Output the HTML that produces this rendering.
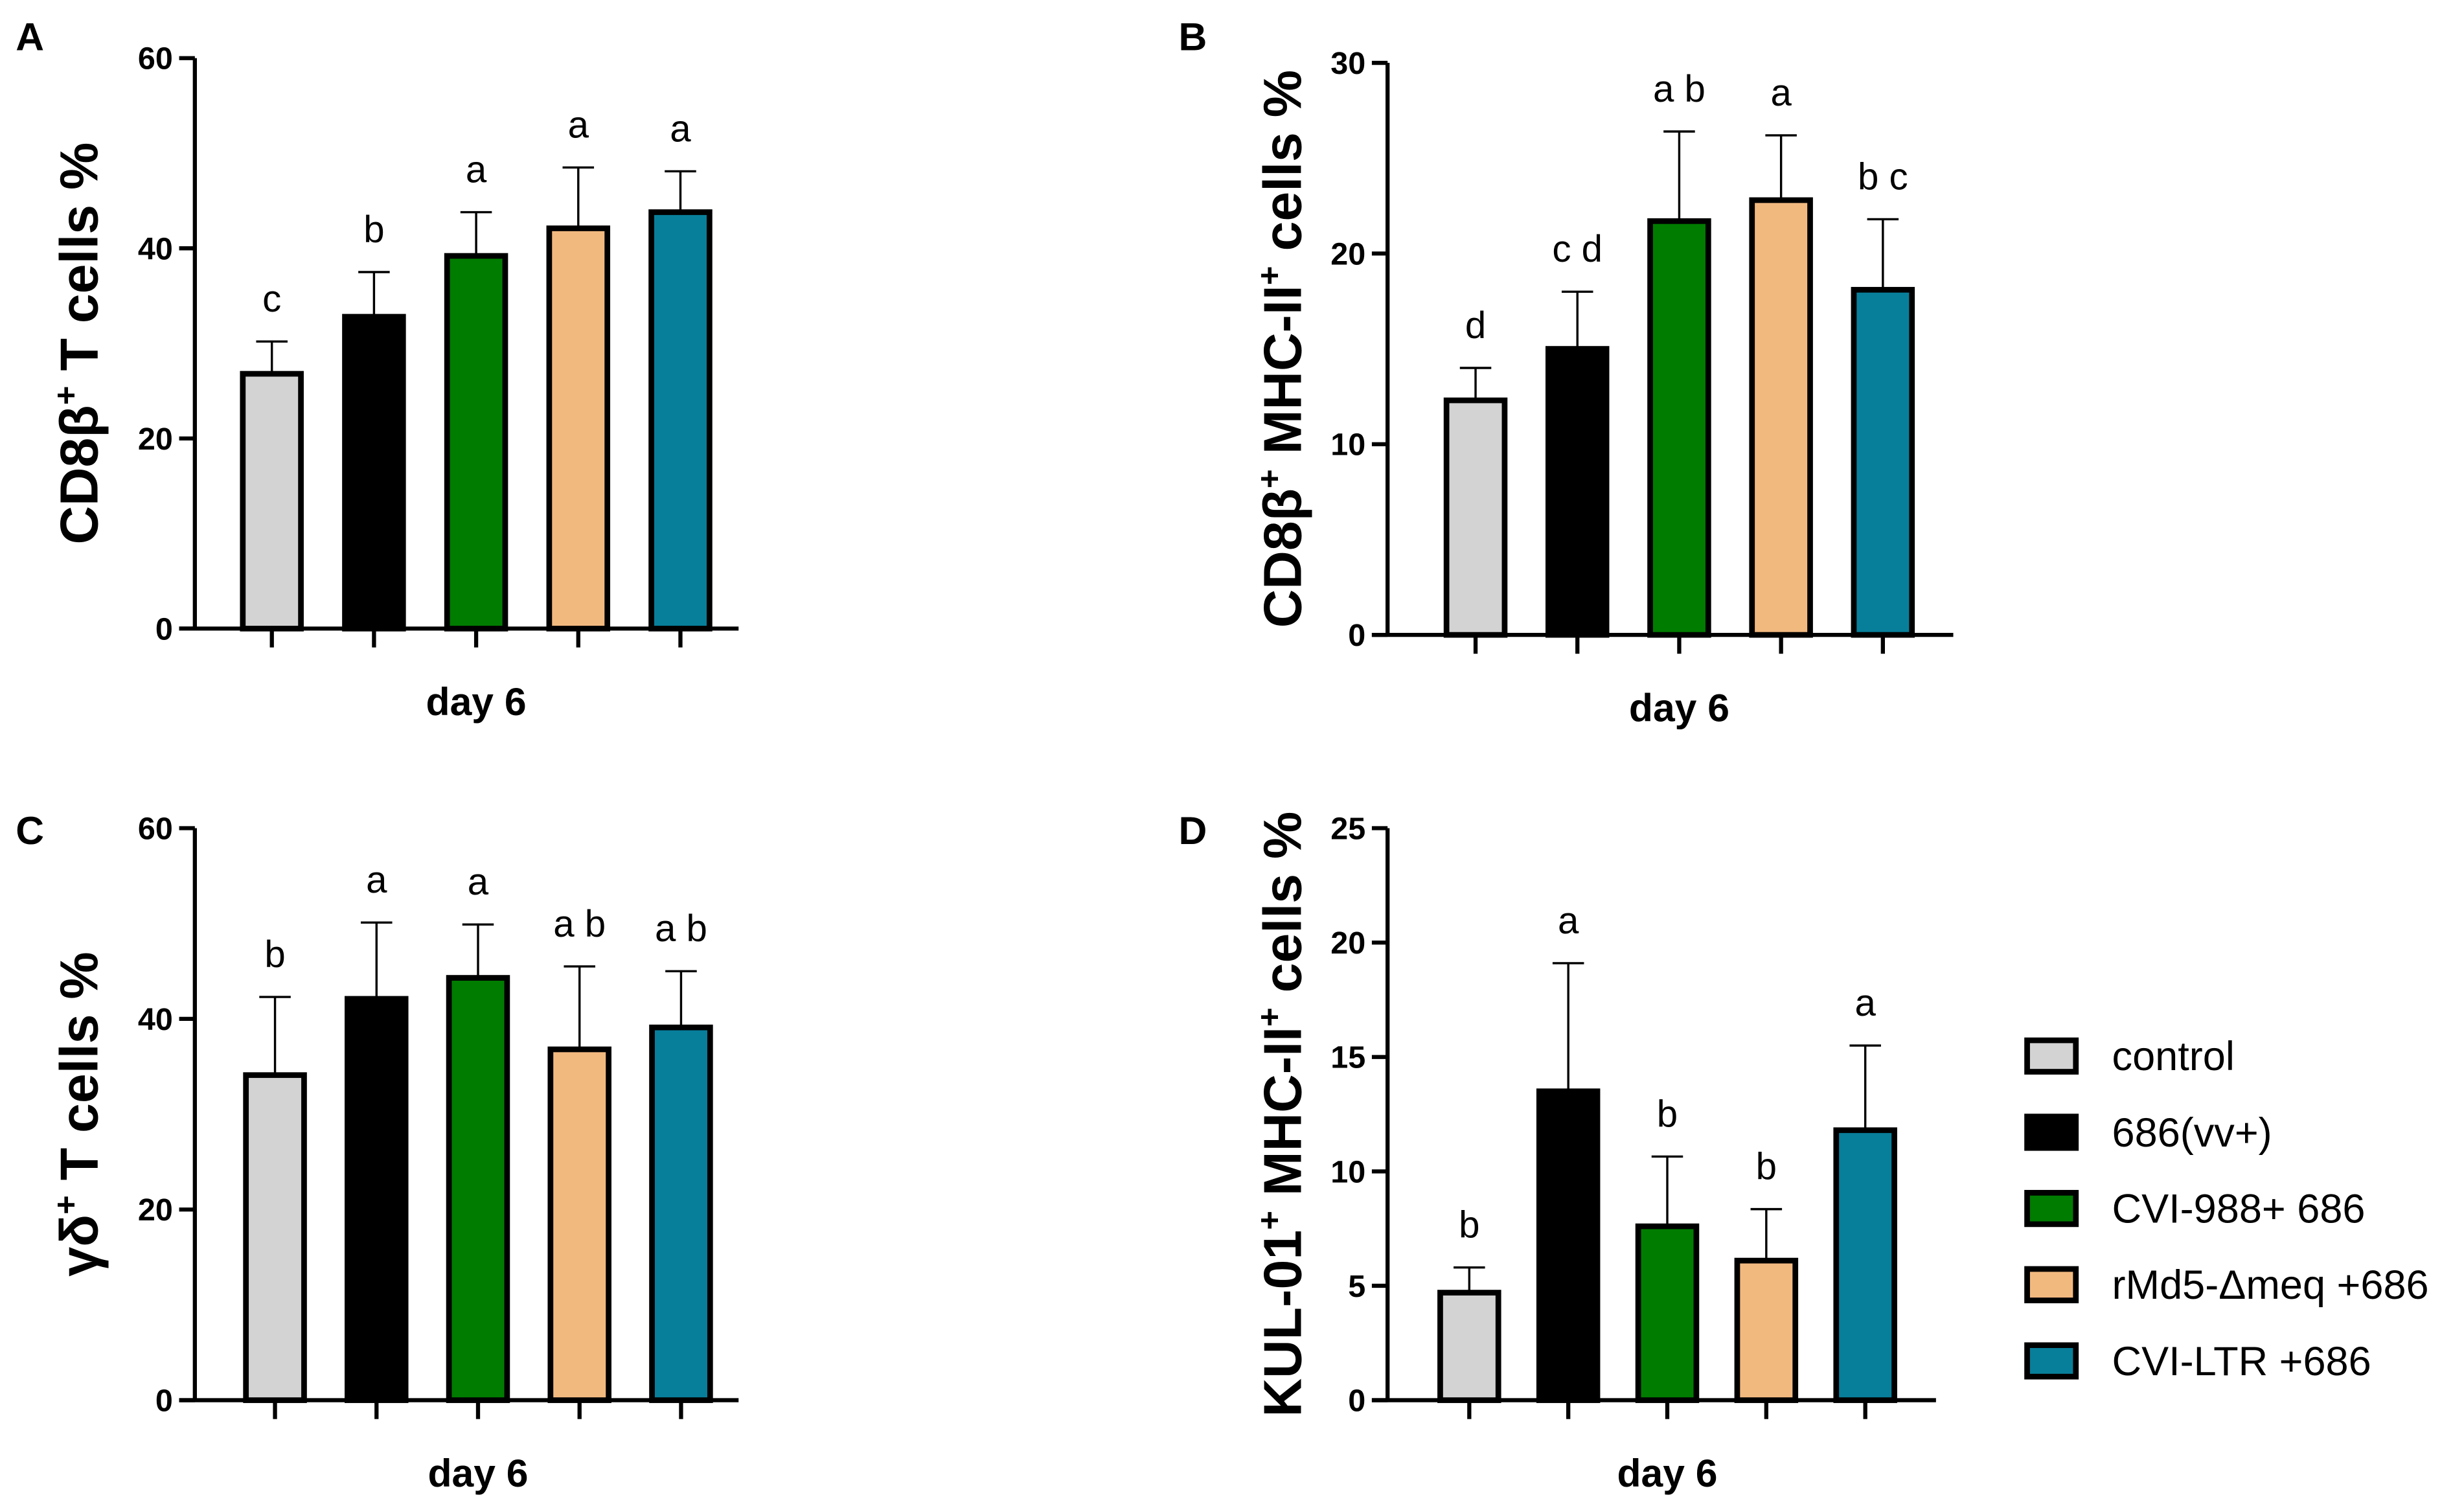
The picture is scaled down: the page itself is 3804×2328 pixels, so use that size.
<!DOCTYPE html>
<html><head><meta charset="utf-8"><style>
html,body{margin:0;padding:0;background:#fff;}
svg{display:block;font-family:"Liberation Sans",Arial,sans-serif;}
</style></head><body>
<svg id="fig" width="3804" height="2328" viewBox="0 0 1568 959.6" xmlns="http://www.w3.org/2000/svg"></svg>
<script>
const groups = ["control","686(vv+)","CVI-988+ 686","rMd5-\u0394meq +686","CVI-LTR +686"];
const colors = ["#d3d3d3","#000000","#007c00","#f2b97f","#087f9a"];
const meansA = [26.8,32.8,39.2,42.1,43.8];
const errA = [3.4,4.7,4.6,6.4,4.3];
const lettersA = ["c","b","a","a","a"];
const meansB = [12.3,15.0,21.7,22.8,18.1];
const errB = [1.7,3.0,4.7,3.4,3.7];
const lettersB = ["d","c d","a b","a","b c"];
const meansC = [34.1,42.1,44.3,36.8,39.1];
const errC = [8.2,8.0,5.6,8.7,5.9];
const lettersC = ["b","a","a","a b","a b"];
const meansD = [4.7,13.5,7.6,6.1,11.8];
const errD = [1.1,5.6,3.05,2.25,3.7];
const lettersD = ["b","a","b","b","a"];
const ticksA = [0,20,40,60];
const ticksB = [0,10,20,30];
const ticksC = [0,20,40,60];
const ticksD = [0,5,10,15,20,25];

const NS="http://www.w3.org/2000/svg";
const svg=document.getElementById('fig');
function mk(tag,attrs,parent,text){const e=document.createElementNS(NS,tag);for(const k in attrs)e.setAttribute(k,attrs[k]);if(text!==undefined)e.textContent=text;(parent||svg).appendChild(e);return e;}

function panel(cfg){
  const g=mk('g',{});
  
  
  const y=v=>cfg.y0-(v/cfg.ymax)*(cfg.y0-cfg.yTop);
  const x=i=>cfg.x0+i*cfg.step;
  const pl=mk('text',{x:cfg.lx,y:cfg.ly,'font-size':25,'font-weight':'bold'},g,cfg.id);
  
  
  cfg.means.forEach((m,i)=>{
    const cx=x(i), top=y(m+cfg.err[i]);
    const eb=mk('path',{d:`M${cx} ${y(m)} V${top} M${cx-10} ${top} H${cx+10}`,stroke:'#000','stroke-width':1.4,fill:'none'},g);
    
    
    const r=mk('rect',{x:cx-cfg.bw/2,y:y(m),width:cfg.bw,height:cfg.y0-y(m),fill:colors[i],stroke:'#000','stroke-width':3.6},g);
    
    
    const t=mk('text',{x:cx,y:top-19,'text-anchor':'middle','font-size':24},g,cfg.letters[i]);
    
    
    const tk=mk('line',{x1:cx,x2:cx,y1:cfg.y0,y2:cfg.y0+12,stroke:'#000','stroke-width':2.6},g);
    
    
  });
  const ax=mk('path',{d:`M${cfg.ax} ${cfg.yTop} V${cfg.y0} M${cfg.ax-10} ${cfg.y0} H${cfg.xEnd}`,stroke:'#000','stroke-width':2.6,fill:'none'},g);
  
  
  cfg.ticks.forEach(v=>{
    const l=mk('line',{x1:cfg.ax-10,x2:cfg.ax,y1:y(v),y2:y(v),stroke:'#000','stroke-width':2.6},g);
    
    
    const t=mk('text',{x:cfg.ax-14,y:y(v)+7,'text-anchor':'end','font-size':20,'font-weight':'bold'},g,String(v));
    
    
  });
  const xt=mk('text',{x:x(2),y:cfg.y0+55,'text-anchor':'middle','font-size':25,'font-weight':'bold'},g,'day 6');
  
  
  const yc=(cfg.yTop+cfg.y0)/2;
  const yt=mk('text',{x:0,y:0,'text-anchor':'middle','font-size':34,'font-weight':'bold',transform:`translate(${cfg.ylx},${yc}) rotate(-90)`},g);
  
  
  cfg.ytitle.forEach(p=>{mk('tspan',p.sup?{'font-size':21,dy:-13}:{dy:p.down?13:0},yt,p.t);});
}
panel({id:'A',lx:10,ly:32,ax:124,yTop:37,y0:400,ymax:60,x0:173,step:65,bw:37,xEnd:470,ylx:62,ticks:ticksA,means:meansA,err:errA,letters:lettersA,
  ytitle:[{t:'CD8\u03b2'},{t:'+',sup:1},{t:' T cells %',down:1}]});
panel({id:'B',lx:750,ly:32,ax:883,yTop:40,y0:404,ymax:30,x0:939,step:64.8,bw:37,xEnd:1243,ylx:828,ticks:ticksB,means:meansB,err:errB,letters:lettersB,
  ytitle:[{t:'CD8\u03b2'},{t:'+',sup:1},{t:' MHC-II',down:1},{t:'+',sup:1},{t:' cells %',down:1}]});
panel({id:'C',lx:10,ly:537,ax:124,yTop:527,y0:891,ymax:60,x0:175,step:64.6,bw:37,xEnd:470,ylx:62,ticks:ticksC,means:meansC,err:errC,letters:lettersC,
  ytitle:[{t:'\u03b3\u03b4'},{t:'+',sup:1},{t:' T cells %',down:1}]});
panel({id:'D',lx:750,ly:537,ax:883,yTop:527,y0:891,ymax:25,x0:935,step:63,bw:37,xEnd:1232,ylx:828,ticks:ticksD,means:meansD,err:errD,letters:lettersD,
  ytitle:[{t:'KUL-01'},{t:'+',sup:1},{t:' MHC-II',down:1},{t:'+',sup:1},{t:' cells %',down:1}]});
const lg=mk('g',{});


groups.forEach((name,i)=>{
  const yy=672+i*48.5;
  const r=mk('rect',{x:1290,y:yy-10,width:31,height:20,fill:colors[i],stroke:'#000','stroke-width':3.6},lg);
  
  
  const t=mk('text',{x:1344,y:yy+9,'font-size':26},lg,name);
  
  
});
</script>
</body></html>
